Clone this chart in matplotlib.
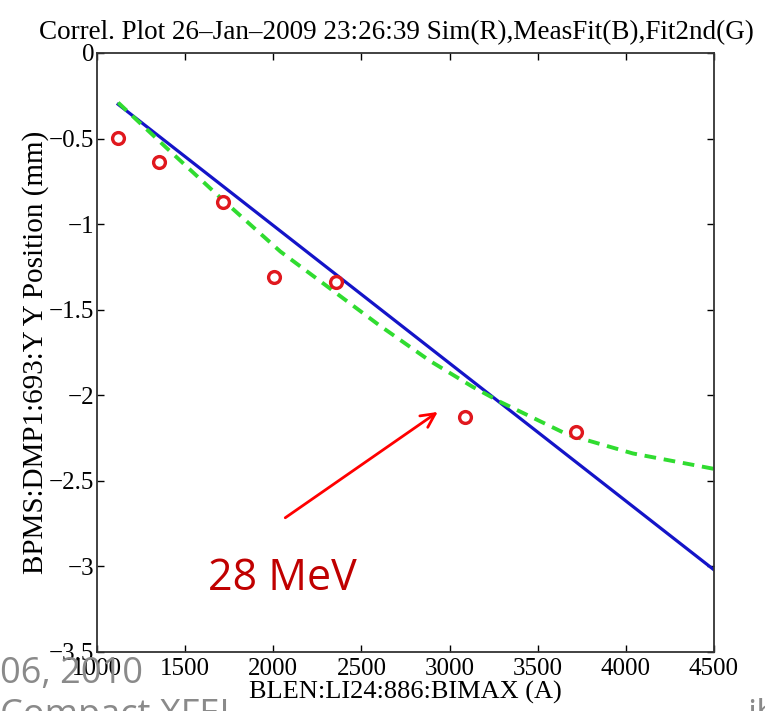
import matplotlib.pyplot as plt
import numpy as np

# simulated points (red circles)
sim_x = [1119, 1352, 1715, 2004, 2356, 3087, 3717]
sim_y = [-0.497, -0.637, -0.871, -1.31, -1.339, -2.129, -2.216]

# measured linear fit (blue), end points
fit_x = [1120, 4500]
fit_y = [-0.30, -3.02]

# 2nd order fit (green dashed)
fit2_x = [1120, 1400, 1715, 2040, 2340, 2600, 2890, 3130, 3290, 3670, 4040, 4500]
fit2_y = [-0.29, -0.56, -0.86, -1.16, -1.39, -1.59, -1.80, -1.95, -2.04, -2.23, -2.34, -2.43]

xticks = [1000, 1500, 2000, 2500, 3000, 3500, 4000, 4500]
yticks = [0, -0.5, -1, -1.5, -2, -2.5, -3, -3.5]
ytick_labels = ['0', '\u22120.5', '\u22121', '\u22121.5', '\u22122', '\u22122.5', '\u22123', '\u22123.5']

plt.rcParams['font.family'] = ['Liberation Serif', 'DejaVu Serif']

f = plt.figure(figsize=(7.65, 7.11), dpi=100)

# slide remnants behind the plot
slide = ['Open Sans', 'DejaVu Sans']
f.text(0.0, 0.039, '06, 2010', color='#8a8a8a', fontsize=26,
       family=slide, ha='left', va='baseline', zorder=0)
f.text(0.0, -0.02, 'Compact XFEL', color='#8a8a8a', fontsize=26,
       family=slide, ha='left', va='baseline')
f.text(0.976, -0.02, 'ib', color='#8a8a8a', fontsize=26,
       family=slide, ha='left', va='baseline')

axes = f.add_axes([0.1268, 0.083, 0.8065, 0.8425])

axes.plot(fit_x, fit_y, '-', color='#1414c8', lw=2.3)
axes.plot(fit2_x, fit2_y, '--', color='#30dc30', lw=2.8, dashes=(3, 2))
axes.plot(sim_x, sim_y, 'o', color='#e0181e', mfc='white', ms=8.5, mew=2.4)

axes.set_xlim(1000, 4500)
axes.set_ylim(-3.5, 0)
axes.set_xticks(xticks)
axes.set_xticklabels([str(t) for t in xticks])
axes.set_yticks(yticks)
axes.set_yticklabels(ytick_labels)
axes.tick_params(direction='in', length=5, width=1, labelsize=18,
                 top=True, right=True, pad=2)
axes.tick_params(axis='x', pad=4)
for s in axes.spines.values():
    s.set_linewidth(1.3)
    s.set_color('#333333')

axes.set_title('Correl. Plot 26\u2013Jan\u20132009 23:26:39 Sim(R),MeasFit(B),Fit2nd(G)',
               fontsize=19.5, pad=10, x=0.485)
axes.set_xlabel('BLEN:LI24:886:BIMAX (A)', fontsize=19, labelpad=1)
axes.set_ylabel('BPMS:DMP1:693:Y Y Position (mm)', fontsize=21, labelpad=0)

# annotation
axes.annotate('', xy=(2946, -2.088), xytext=(2055, -2.725),
              arrowprops=dict(arrowstyle='->', color='red', lw=2, mutation_scale=25))
axes.text(2049, -3.07, '28 MeV', color='#c00000', fontsize=31,
          family=slide, ha='center', va='center')

plt.savefig('out.png', format='png', dpi=100)
plt.close()
